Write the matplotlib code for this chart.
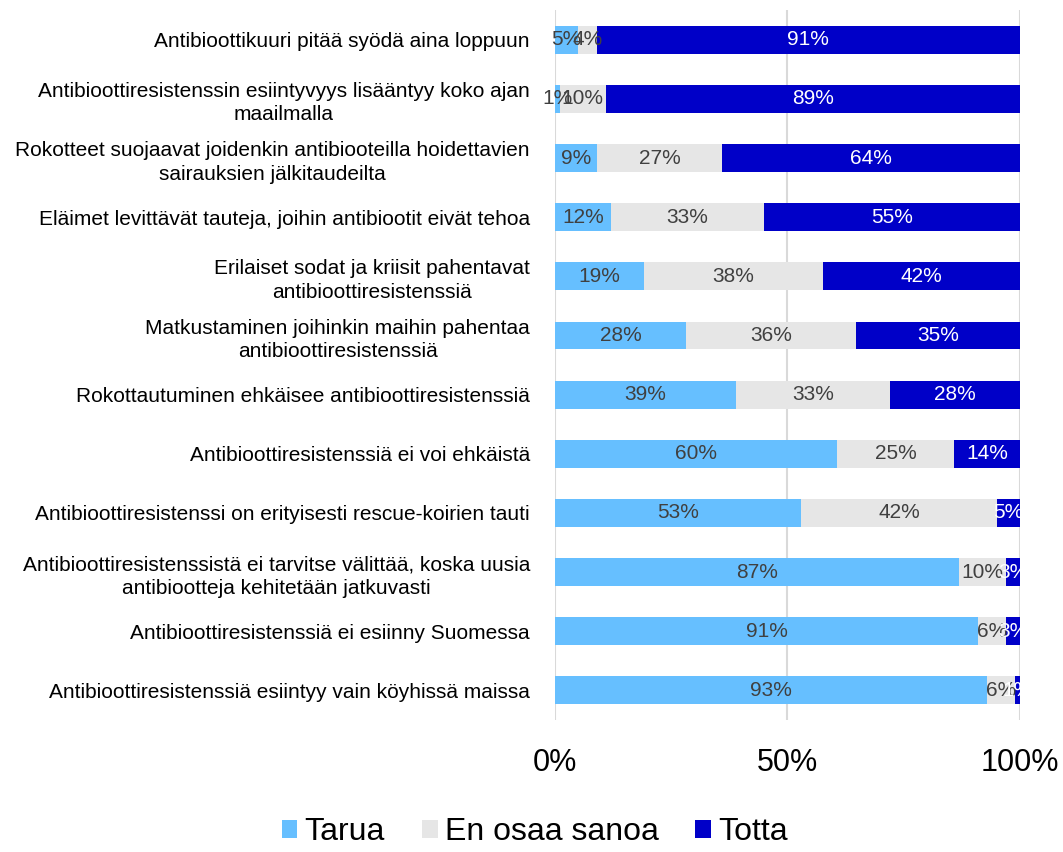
import numpy as np
import matplotlib
matplotlib.use("Agg")
from matplotlib import pyplot as plt

plt.rcParams['font.family'] = ['Liberation Sans', 'DejaVu Sans']

categories = [
    "Antibioottikuuri pitää syödä aina loppuun",
    "Antibioottiresistenssin esiintyvyys lisääntyy koko ajan\nmaailmalla",
    "Rokotteet suojaavat joidenkin antibiooteilla hoidettavien\nsairauksien jälkitaudeilta",
    "Eläimet levittävät tauteja, joihin antibiootit eivät tehoa",
    "Erilaiset sodat ja kriisit pahentavat\nantibioottiresistenssiä",
    "Matkustaminen joihinkin maihin pahentaa\nantibioottiresistenssiä",
    "Rokottautuminen ehkäisee antibioottiresistenssiä",
    "Antibioottiresistenssiä ei voi ehkäistä",
    "Antibioottiresistenssi on erityisesti rescue-koirien tauti",
    "Antibioottiresistenssistä ei tarvitse välittää, koska uusia\nantibiootteja kehitetään jatkuvasti",
    "Antibioottiresistenssiä ei esiinny Suomessa",
    "Antibioottiresistenssiä esiintyy vain köyhissä maissa",
]

tarua = [5, 1, 9, 12, 19, 28, 39, 60, 53, 87, 91, 93]
en_osaa = [4, 10, 27, 33, 38, 36, 33, 25, 42, 10, 6, 6]
totta = [91, 89, 64, 55, 42, 35, 28, 14, 5, 3, 3, 1]

series_names = ["Tarua", "En osaa sanoa", "Totta"]
colors = ["#66BFFF", "#E6E6E6", "#0000C8"]
label_colors = ["#404040", "#404040", "white"]

data = np.array([tarua, en_osaa, totta], dtype=float)
shares = data / data.sum(axis=0) * 100

fig = plt.figure(figsize=(10.63, 8.52), dpi=100)
ax = fig.add_axes([0.522, 0.155, 0.4375, 0.833])

y = np.arange(len(categories))
left = np.zeros(len(categories))
for i in range(3):
    bars = ax.barh(y, shares[i], left=left, height=0.47, color=colors[i],
                   label=series_names[i], zorder=3)
    for j, b in enumerate(bars):
        cx = b.get_x() + b.get_width() / 2
        ax.text(cx, y[j], "%d%%" % data[i][j], ha="center", va="center",
                fontsize=15, color=label_colors[i], zorder=4)
    left += shares[i]

ax.set_xlim(0, 100)
ax.set_ylim(len(categories) - 0.5, -0.5)
ax.set_xticks([0, 50, 100])
ax.set_xticklabels(["0%", "50%", "100%"], fontsize=22)
ax.set_yticks(y)
ax.set_yticklabels(categories, fontsize=15, multialignment="center",
                   linespacing=1.3)
ax.tick_params(axis="both", length=0)
ax.tick_params(axis="x", pad=20)
ax.tick_params(axis="y", pad=18)
for s in ax.spines.values():
    s.set_visible(False)
ax.grid(axis="x", color="#D9D9D9", linewidth=1.5, zorder=0)

fig.legend(loc="lower center", bbox_to_anchor=(0.503, -0.028), ncol=3,
           frameon=False, fontsize=23, handlelength=0.5, handleheight=0.5,
           handletextpad=0.22, columnspacing=1.15)

fig.savefig("out.png", dpi=100)
